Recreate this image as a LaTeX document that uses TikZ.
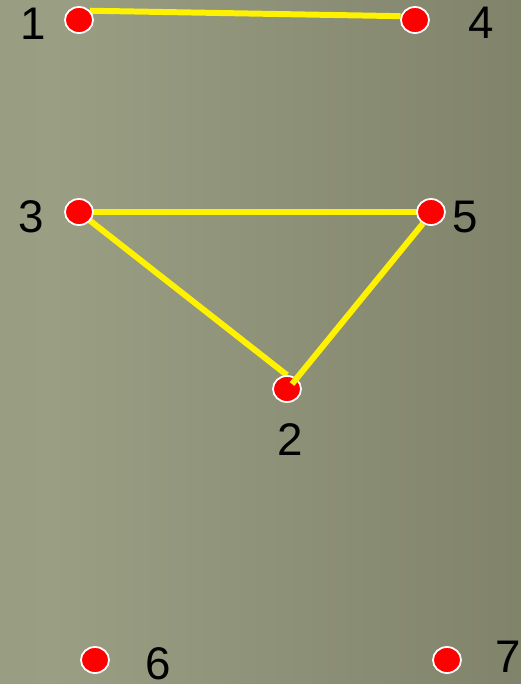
\documentclass[tikz,border=0pt]{standalone}
\usepackage{fontspec}
\setmainfont{Liberation Sans}
\usetikzlibrary{shapes.geometric, positioning, backgrounds, calc}

\definecolor{bgleft}{RGB}{146,149,123}
\definecolor{bglight}{RGB}{154,158,131}
\definecolor{bgright}{RGB}{114,117,93}
\pgfdeclarehorizontalshading{bgshade}{100bp}{%
  color(0bp)=(bgleft); color(30bp)=(bglight); color(100bp)=(bgright)}

\begin{document}
\begin{tikzpicture}[
  x=0.01cm, y=-0.01cm,
  every node/.style={font=\fontsize{13}{15}\selectfont},
  dot/.style={draw=white, line width=0.5pt, fill=red, ellipse,
    inner sep=0pt, minimum width=0.28cm, minimum height=0.26cm},
  num/.style={inner sep=0pt, text=black},
  edge/.style={draw=yellow, line width=1.7pt},
]

%% Background
\useasboundingbox (0,0) rectangle (521,684);

%% Vertices
\node[dot] (v1) at ( 79, 20) {};
\node[dot] (v4) at (415, 20) {};
\node[dot] (v3) at ( 79,212) {};
\node[dot] (v5) at (431,212) {};
\node[dot] (v2) at (287,389) {};
\node[dot] (v6) at ( 95,660) {};
\node[dot] (v7) at (447,660) {};

%% Labels
\node[num] (l1) at ( 33, 24) {1};
\node[num] (l4) at (481, 23) {4};
\node[num] (l3) at ( 31,217) {3};
\node[num] (l5) at (465,217) {5};
\node[num] (l2) at (290,440) {2};
\node[num] (l6) at (158,664) {6};
\node[num] (l7) at (508,657) {7};

%% Edges under the dots
\begin{scope}[on background layer]
  \shade[shading=bgshade] (0,0) rectangle (521,684);
  \draw[edge] (v1.40) -- (v4.165);
  \draw[edge] (v3.center) -- (v5.center);
  \draw[edge] (v3.center) -- (v2.north);
\end{scope}

%% Edge over dot 2
\coordinate (v2in) at ($(v2.center)+(5,-5)$);
\draw[edge] (v5.235) -- (v2in);

\end{tikzpicture}
\end{document}
